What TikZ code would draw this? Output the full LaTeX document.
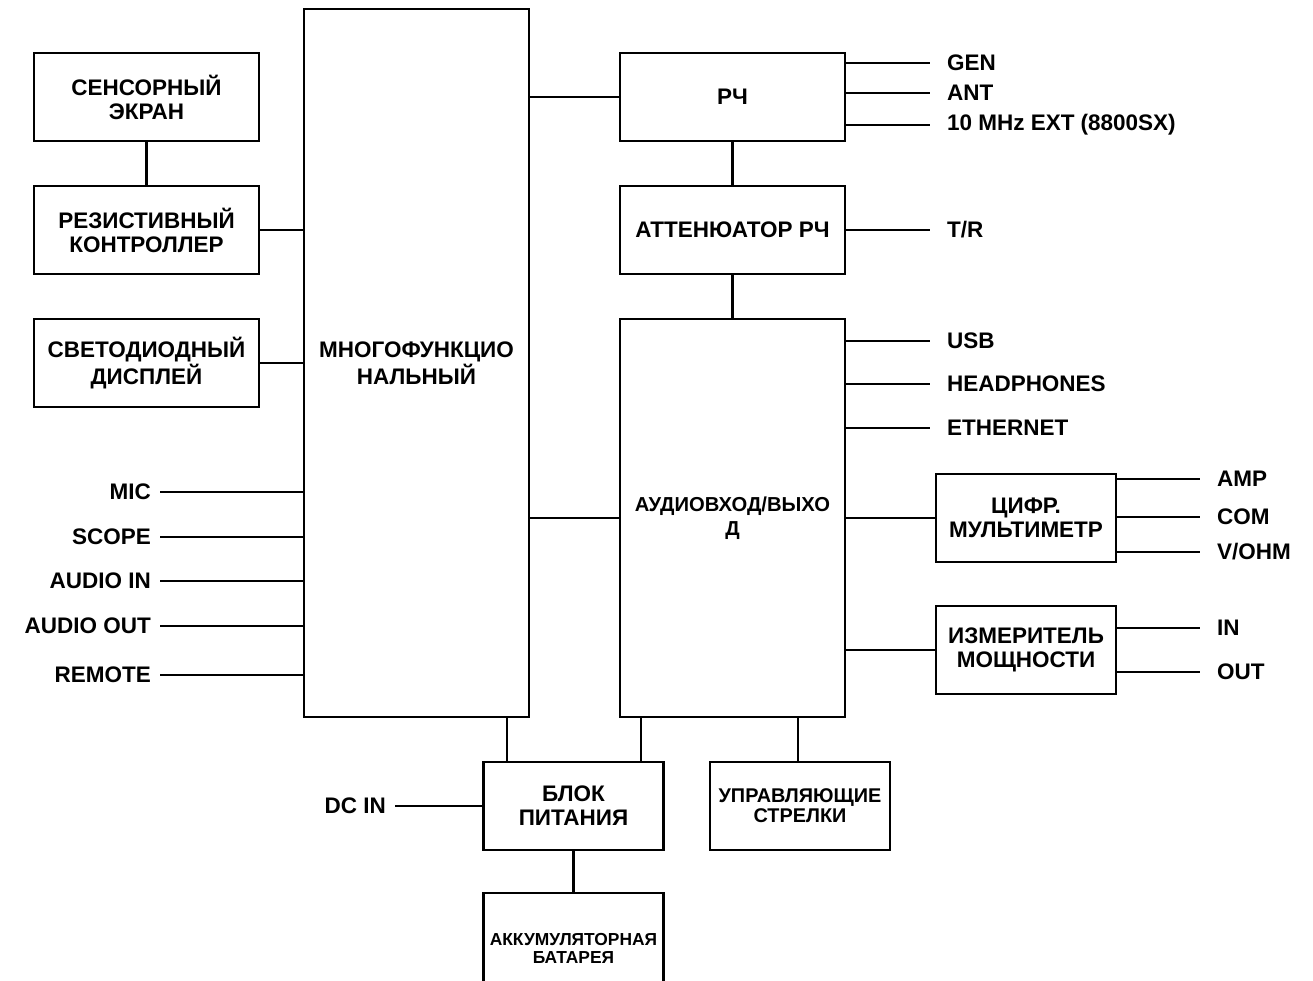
\documentclass[tikz,border=0pt]{standalone}
\usepackage{fontspec}
\setmainfont{Liberation Sans}
\usepackage{tikz}
\usetikzlibrary{positioning}

\begin{document}
\begin{tikzpicture}[
  x=0.02cm, y=-0.02cm,
  font=\bfseries\fontsize{12.8}{13.6}\selectfont,
  every node/.style={align=center},
  blk/.style={draw=black, line width=1.6pt, minimum width=4.5cm,
              minimum height=1.76cm, inner sep=2pt},
  sblk/.style={blk, minimum width=3.6cm},
  ln/.style={draw=black, line width=1.5pt},
  pin/.style={anchor=west, inner xsep=9.5pt, inner ysep=0pt},
  pout/.style={anchor=east, inner xsep=5pt, inner ysep=0pt},
]
\useasboundingbox (0,0) rectangle (1313,981);

% ---- left column ----
\node[blk] (touch) at (146.5,97)  {СЕНСОРНЫЙ\\ЭКРАН};
\node[blk] (ctl)   at (146.5,230) {РЕЗИСТИВНЫЙ\\КОНТРОЛЛЕР};
\node[blk] (led)   at (146.5,363) {СВЕТОДИОДНЫЙ\\ДИСПЛЕЙ};

% ---- main blocks ----
\node[blk, minimum height=14.16cm] (mf) at (416.5,363)
  {МНОГОФУНКЦИО\\НАЛЬНЫЙ};
\node[blk] (rf)  at (732.5,97)  {РЧ};
\node[blk] (att) at (732.5,230) {АТТЕНЮАТОР РЧ};
\node[blk, minimum height=7.96cm,
      font=\bfseries\fontsize{11.5}{13.6}\selectfont] (aud) at (732.5,518)
  {АУДИОВХОД/ВЫХО\\Д};
\node[sblk] (dmm) at (1026,518) {ЦИФР.\\МУЛЬТИМЕТР};
\node[sblk] (pwm) at (1026,650) {ИЗМЕРИТЕЛЬ\\МОЩНОСТИ};
\node[sblk] (psu) at (573.5,806) {БЛОК\\ПИТАНИЯ};
\node[sblk, font=\bfseries\fontsize{11.3}{11.3}\selectfont] (arr) at (800,806)
  {УПРАВЛЯЮЩИЕ\\СТРЕЛКИ};
\node[sblk, minimum height=2.2cm,
      font=\bfseries\fontsize{9.9}{10.2}\selectfont] (bat) at (573.5,948)
  {АККУМУЛЯТОРНАЯ\\БАТАРЕЯ};

% ---- links between blocks ----
\draw[ln] (touch) -- (ctl);
\draw[ln] (att) -- (rf);
\draw[ln] (att) -- (aud);
\draw[ln] (psu) -- (bat.north);
\foreach \a in {ctl, led}
  \draw[ln] (\a.east) -- (\a.east -| mf.west);
\draw[ln] (rf.west -| mf.east) -- (rf.west);
\draw[ln] (aud.west -| mf.east) -- (aud.west);
\draw[ln] (aud.east) -- (dmm.west);
\draw[ln] (pwm.west -| aud.east) -- (pwm.west);
\draw[ln] (mf.south -| 507,0) -- (psu.north -| 507,0);
\draw[ln] (aud.south -| 641,0) -- (psu.north -| 641,0);
\draw[ln] (aud.south -| 798,0) -- (arr.north -| 798,0);

% ---- left ports ----
\foreach \y/\t/\n in {492/MIC/mic, 537/SCOPE/scope, 581/AUDIO IN/ain,
                      626/AUDIO OUT/aout, 675/REMOTE/rem}{
  \node[pout] (\n) at (160,\y) {\t};
  \draw[ln] (\n.east) -- (\n.east -| mf.west);
}
\node[pout] (dcin) at (395,806) {DC IN};
\draw[ln] (dcin.east) -- (psu.west);

% ---- right ports ----
\foreach \y/\t/\n in {63/GEN/gen, 93/ANT/ant, 125/10 MHz EXT (8800SX)/ext}{
  \node[pin] (\n) at (930,\y) {\t};
  \draw[ln] (\n.west -| rf.east) -- (\n.west);
}
\node[pin] (tr) at (930,230) {T/R};
\draw[ln] (att.east) -- (tr.west);
\foreach \y/\t/\n in {341/USB/usb, 384/HEADPHONES/hph, 428/ETHERNET/eth}{
  \node[pin] (\n) at (930,\y) {\t};
  \draw[ln] (\n.west -| aud.east) -- (\n.west);
}
\foreach \y/\t/\n in {479/AMP/amp, 517/COM/com, 552/{V/OHM}/vohm}{
  \node[pin] (\n) at (1200,\y) {\t};
  \draw[ln] (\n.west -| dmm.east) -- (\n.west);
}
\foreach \y/\t/\n in {628/IN/pin, 672/OUT/pout}{
  \node[pin] (\n) at (1200,\y) {\t};
  \draw[ln] (\n.west -| pwm.east) -- (\n.west);
}

\end{tikzpicture}
\end{document}
